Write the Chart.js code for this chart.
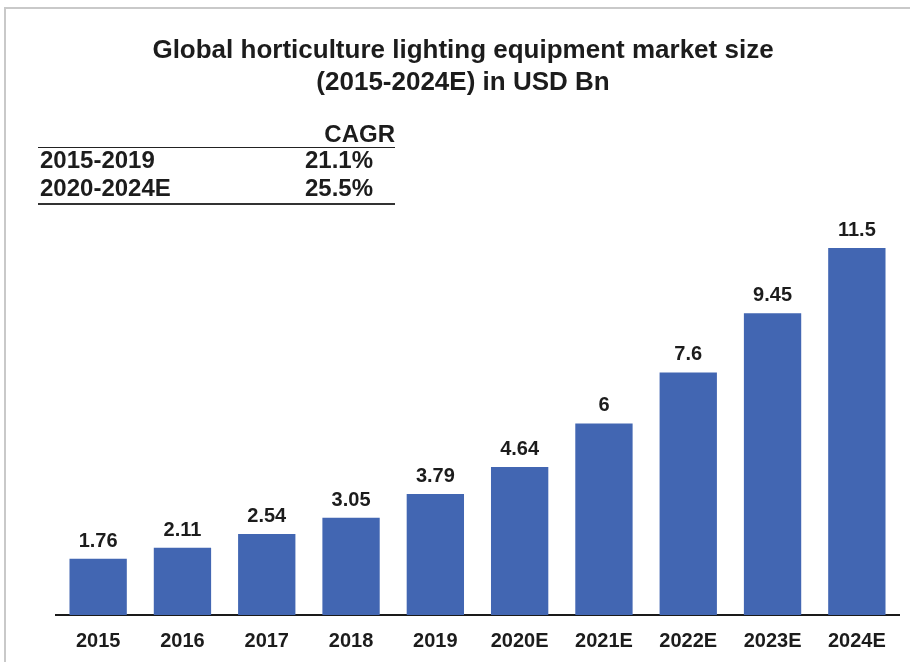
<!DOCTYPE html>
<html>
<head>
<meta charset="utf-8">
<script src="https://cdn.jsdelivr.net/npm/chart.js@4.4.1/dist/chart.umd.min.js"></script>
<style>
  html, body { margin: 0; padding: 0; background: #fff; }
  #wrap { position: relative; width: 910px; height: 662px; }
  #frame { position: absolute; left: 4px; top: 7px; width: 910px; height: 662px;
           border-top: 2px solid #c9c9c9; border-left: 2px solid #c9c9c9; }
  canvas { position: absolute; left: 0; top: 0; }
</style>
</head>
<body>
<div id="wrap">
  <div id="frame"></div>
  <canvas id="chart" width="910" height="662"></canvas>
</div>
<script>
const years = ['2015', '2016', '2017', '2018', '2019', '2020E', '2021E', '2022E', '2023E', '2024E'];
const marketSize = [1.76, 2.11, 2.54, 3.05, 3.79, 4.64, 6, 7.6, 9.45, 11.5];
const valueLabels = ['1.76', '2.11', '2.54', '3.05', '3.79', '4.64', '6', '7.6', '9.45', '11.5'];
const titleLines = ['Global horticulture lighting equipment market size', '(2015-2024E) in USD Bn'];
const cagrPeriods = ['2015-2019', '2020-2024E'];
const cagrValues = ['21.1%', '25.5%'];

const ink = '#1c1c1c';
const family = 'Arial, "Liberation Sans", Helvetica, sans-serif';
Chart.defaults.font.family = family;

// title, CAGR table and value labels drawn on the canvas
const extras = {
  id: 'extras',
  afterDraw(chart) {
    const ctx = chart.ctx;
    ctx.save();
    ctx.fillStyle = ink;

    // title
    ctx.font = 'bold 26px ' + family;
    ctx.textAlign = 'center';
    ctx.textBaseline = 'alphabetic';
    ctx.fillText(titleLines[0], 463, 58);
    ctx.fillText(titleLines[1], 463, 90);

    // CAGR table
    ctx.font = 'bold 24px ' + family;
    ctx.textAlign = 'right';
    ctx.fillText('CAGR', 395, 142);
    ctx.strokeStyle = '#222';
    ctx.lineWidth = 1;
    ctx.beginPath(); ctx.moveTo(38, 147.5); ctx.lineTo(395, 147.5); ctx.stroke();
    cagrPeriods.forEach((p, i) => {
      const y = 168 + i * 28;
      ctx.textAlign = 'left';
      ctx.fillText(p, 40, y);
      ctx.textAlign = 'right';
      ctx.fillText(cagrValues[i], 373, y);
    });
    ctx.strokeStyle = '#333';
    ctx.lineWidth = 2;
    ctx.beginPath(); ctx.moveTo(38, 204); ctx.lineTo(395, 204); ctx.stroke();

    // value labels
    ctx.font = 'bold 20px ' + family;
    ctx.textAlign = 'center';
    chart.getDatasetMeta(0).data.forEach((bar, i) => {
      ctx.fillText(valueLabels[i], bar.x, bar.y - 12);
    });
    ctx.restore();
  }
};

new Chart(document.getElementById('chart'), {
  type: 'bar',
  data: {
    labels: years,
    datasets: [{
      data: marketSize,
      backgroundColor: '#4266b2',
      barPercentage: 0.68,
      categoryPercentage: 1
    }]
  },
  options: {
    responsive: false,
    animation: false,
    layout: { padding: { top: 216, left: 56, right: 11, bottom: -5 } },
    plugins: {
      legend: { display: false },
      title: { display: false },
      tooltip: { enabled: false }
    },
    scales: {
      x: {
        grid: { display: false, drawTicks: false },
        border: { display: true, color: '#1a1a1a', width: 2 },
        ticks: { color: ink, padding: 14, font: { size: 20, weight: 'bold' } }
      },
      y: { display: false, min: 0, max: 12.5 }
    }
  },
  plugins: [extras]
});
</script>
</body>
</html>
